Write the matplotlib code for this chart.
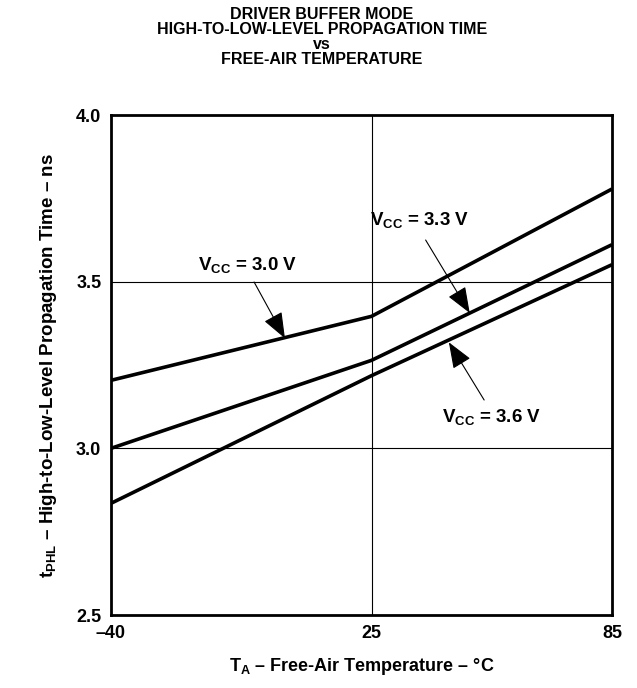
import numpy as np
import matplotlib
matplotlib.use("Agg")
import matplotlib.pyplot as plt

plt.rcParams['font.family'] = ['Liberation Sans', 'DejaVu Sans']
plt.rcParams['font.weight'] = 'bold'
plt.rcParams['mathtext.fontset'] = 'custom'
plt.rcParams['mathtext.rm'] = 'Liberation Sans:bold'
plt.rcParams['mathtext.bf'] = 'Liberation Sans:bold'
plt.rcParams['mathtext.it'] = 'Liberation Sans:bold'

# free-air temperature (deg C) and t_PHL (ns)
temp_30 = [-40, 25, 85]
tphl_30 = [3.204, 3.396, 3.778]

temp_33 = [-40, 25, 85]
tphl_33 = [3.0, 3.264, 3.611]

temp_36 = [-40, 25, 85]
tphl_36 = [2.835, 3.218, 3.551]

x_ticks = [-40, 25, 85]
x_tick_labels = ['\u201340', '25', '85']
y_ticks = [2.5, 3.0, 3.5, 4.0]
y_tick_labels = ['2.5', '3.0', '3.5', '4.0']

fig = plt.figure(figsize=(6.37, 6.88), dpi=100)
ax = fig.add_axes([111/637, 73/688, 501/637, 500/688])

for tx, ty in [(temp_30, tphl_30), (temp_33, tphl_33), (temp_36, tphl_36)]:
	ax.plot(tx, ty, color='black', lw=2.6, solid_capstyle='butt')

# grid only at the inner ticks
for xv in x_ticks[1:-1]:
	ax.axvline(xv, color='black', lw=0.8, zorder=0)
for yv in y_ticks[1:-1]:
	ax.axhline(yv, color='black', lw=0.8, zorder=0)

ax.set_xlim(-40, 85)
ax.set_ylim(2.5, 4.0)
ax.set_xticks(x_ticks)
ax.set_xticklabels(x_tick_labels)
ax.set_yticks(y_ticks)
ax.set_yticklabels(y_tick_labels)
ax.tick_params(length=0, labelsize=13, pad=7)
for lab in ax.get_xticklabels() + ax.get_yticklabels():
	lab.set_fontweight('bold')
for sp in ax.spines.values():
	sp.set_linewidth(2.0)

ax.set_xlabel(r'T$_{\mathrm{A}}$ ' + '\u2013 Free-Air Temperature \u2013 \u00b0C',
              fontsize=13, fontweight='bold', labelpad=10)
ax.set_ylabel(r't$_{\mathrm{PHL}}$ ' + '\u2013 High-to-Low-Level Propagation Time \u2013 ns',
              fontsize=13.5, fontweight='bold', labelpad=12)

fig.text(0.505, 0.99,
         'DRIVER BUFFER MODE\nHIGH-TO-LOW-LEVEL PROPAGATION TIME\nvs\nFREE-AIR TEMPERATURE',
         ha='center', va='top', fontsize=11.5, fontweight='bold', linespacing=1.0)

arrow = dict(arrowstyle='-|>,head_length=0.9,head_width=0.35', color='black',
             lw=0.8, mutation_scale=18, shrinkA=0, shrinkB=0)

ax.text(-6, 3.55, r'V$_{\mathrm{CC}}$ = 3.0 V', ha='center', va='center', fontsize=13.5)
ax.annotate('', xy=(3.4, 3.33), xytext=(-4.3, 3.499), arrowprops=arrow)

ax.text(37, 3.685, r'V$_{\mathrm{CC}}$ = 3.3 V', ha='center', va='center', fontsize=13.5)
ax.annotate('', xy=(49.5, 3.406), xytext=(38.5, 3.625), arrowprops=arrow)

ax.text(55, 3.094, r'V$_{\mathrm{CC}}$ = 3.6 V', ha='center', va='center', fontsize=13.5)
ax.annotate('', xy=(44.3, 3.318), xytext=(53.1, 3.145), arrowprops=arrow)

fig.savefig('out.png', dpi=100)
